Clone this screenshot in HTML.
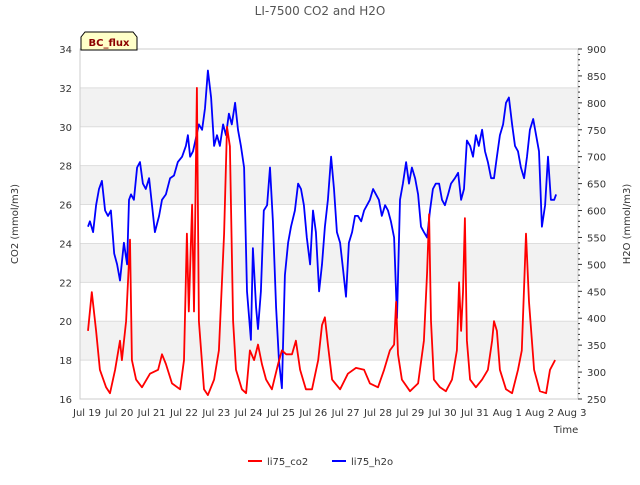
<!DOCTYPE html>
<html><head><meta charset="utf-8"><style>
body{margin:0;background:#fff;}
svg{font-family:"DejaVu Sans","Liberation Sans",sans-serif;}
</style></head><body>
<svg id="chart" width="640" height="480" viewBox="0 0 640 480">
<text x="320" y="15" text-anchor="middle" font-size="12" fill="#555">LI-7500 CO2 and H2O</text>
<g id="bands"></g><g id="grid"></g>
<rect x="80" y="49" width="498" height="350" fill="none" stroke="#ccc"/>
<g id="axes"></g><g id="series"></g>
<g>
<path d="M81,50 L81,37 L85,32 L133,32 L137,37 L137,50 Z" fill="#ffffc8" stroke="#000"/>
<text x="109" y="46" text-anchor="middle" font-size="10" font-weight="bold" fill="#8b0000">BC_flux</text></g>
<text transform="translate(18,224) rotate(-90)" text-anchor="middle" font-size="10" fill="#333">CO2 (mmol/m3)</text>
<text transform="translate(630,224) rotate(-90)" text-anchor="middle" font-size="10" fill="#333">H2O (mmol/m3)</text>
<text x="566" y="433" text-anchor="middle" font-size="10" fill="#333">Time</text>
<g><line x1="248" y1="461" x2="262" y2="461" stroke="#f00" stroke-width="2"/><text x="267" y="465" font-size="10" fill="#333">li75_co2</text></g>
<g><line x1="332" y1="461" x2="346" y2="461" stroke="#00f" stroke-width="2"/><text x="351" y="465" font-size="10" fill="#333">li75_h2o</text></g>
</svg>
<script>
const xTickLabels=["Jul 19","Jul 20","Jul 21","Jul 22","Jul 23","Jul 24","Jul 25","Jul 26","Jul 27","Jul 28","Jul 29","Jul 30","Jul 31","Aug 1","Aug 2","Aug 3"];
const leftTicks=[16,18,20,22,24,26,28,30,32,34];
const rightTicks=[250,300,350,400,450,500,550,600,650,700,750,800,850,900];
const co2Days=[0.03,0.15,0.28,0.40,0.59,0.71,0.87,1.02,1.08,1.21,1.33,1.39,1.52,1.70,1.95,2.20,2.32,2.44,2.63,2.88,3.00,3.09,3.15,3.25,3.31,3.40,3.46,3.62,3.74,3.93,4.08,4.24,4.33,4.42,4.52,4.61,4.79,4.92,5.04,5.17,5.29,5.41,5.54,5.72,5.91,6.03,6.16,6.34,6.46,6.59,6.77,6.96,7.15,7.27,7.36,7.45,7.58,7.83,8.07,8.32,8.57,8.75,9.00,9.19,9.37,9.50,9.56,9.62,9.74,9.99,10.24,10.42,10.52,10.58,10.64,10.73,10.92,11.10,11.29,11.44,11.51,11.57,11.63,11.69,11.75,11.85,12.03,12.22,12.40,12.53,12.59,12.68,12.77,12.96,13.15,13.33,13.45,13.58,13.67,13.83,14.01,14.20,14.32,14.48];
const co2Values=[19.5,21.5,19.5,17.5,16.6,16.3,17.5,19,18,20,24.2,18,17,16.6,17.3,17.5,18.3,17.8,16.8,16.5,18,24.5,20.5,26,20.5,32,20,16.5,16.2,17,18.5,24.5,30,29,20,17.5,16.5,16.3,18.5,18,18.8,17.8,17,16.5,17.8,18.5,18.3,18.3,19,17.5,16.5,16.5,18,19.8,20.2,18.8,17,16.5,17.3,17.6,17.5,16.8,16.6,17.5,18.5,18.8,21,18.3,17,16.4,16.8,19,22.5,25.5,20,17,16.6,16.4,17,18.5,22,19.5,21.5,25.3,19,17,16.6,17,17.5,19,20,19.5,17.5,16.5,16.3,17.5,18.5,24.5,21,17.5,16.4,16.3,17.5,18];
const h2oDays=[0.03,0.09,0.19,0.28,0.37,0.46,0.56,0.65,0.74,0.84,0.93,1.02,1.14,1.24,1.30,1.36,1.45,1.55,1.64,1.73,1.82,1.92,2.01,2.10,2.23,2.32,2.44,2.57,2.69,2.81,2.94,3.06,3.12,3.19,3.28,3.37,3.46,3.56,3.65,3.74,3.84,3.93,4.02,4.11,4.21,4.30,4.39,4.48,4.58,4.67,4.76,4.86,4.95,5.07,5.13,5.23,5.29,5.38,5.47,5.57,5.66,5.75,5.85,5.94,6.03,6.12,6.22,6.31,6.43,6.53,6.62,6.71,6.80,6.90,6.99,7.08,7.18,7.27,7.36,7.45,7.55,7.64,7.73,7.83,7.92,8.01,8.10,8.20,8.29,8.38,8.48,8.57,8.66,8.75,8.85,8.94,9.03,9.12,9.22,9.31,9.40,9.50,9.59,9.68,9.77,9.87,9.96,10.05,10.15,10.24,10.33,10.42,10.52,10.61,10.70,10.79,10.89,10.98,11.07,11.17,11.26,11.38,11.48,11.57,11.66,11.75,11.85,11.94,12.03,12.12,12.22,12.31,12.40,12.50,12.59,12.68,12.77,12.87,12.96,13.05,13.15,13.24,13.33,13.42,13.52,13.61,13.70,13.80,13.89,13.98,14.07,14.17,14.26,14.35,14.45,14.51];
const h2oValues=[570,580,560,610,640,655,600,590,600,520,500,470,540,500,620,630,620,680,690,650,640,660,610,560,590,620,630,660,665,690,700,720,740,700,710,735,760,750,790,860,810,720,740,720,760,740,780,760,800,750,720,680,450,360,530,420,380,450,600,610,680,580,420,320,270,480,540,570,600,650,640,610,550,500,600,560,450,500,570,620,700,640,560,540,490,440,540,560,590,590,580,600,610,620,640,630,620,590,610,600,580,550,400,620,650,690,650,680,660,630,570,560,550,600,640,650,650,620,610,630,650,660,670,620,640,730,720,700,740,720,750,710,690,660,660,700,740,760,800,810,760,720,710,680,660,700,750,770,740,710,570,610,700,620,620,630];

const NS="http://www.w3.org/2000/svg";
const X0=80,X1=578,Y0=49,Y1=399;
const xS=d=>87+d*32.33;
const yL=v=>Y1-(v-16)*(Y1-Y0)/18;
const yR=v=>Y1-(v-250)*(Y1-Y0)/650;
function mk(tag,attrs,parent){const e=document.createElementNS(NS,tag);for(const k in attrs)e.setAttribute(k,attrs[k]);parent.appendChild(e);return e;}
const bands=document.getElementById('bands'),grid=document.getElementById('grid'),axes=document.getElementById('axes'),series=document.getElementById('series');
for(let i=0;i<leftTicks.length-1;i++){
  if(i%2===1){const r=mk('rect',{x:X0,y:yL(leftTicks[i+1]),width:X1-X0,height:yL(leftTicks[i])-yL(leftTicks[i+1]),fill:'#f2f2f2'},bands);
  
  }
}
leftTicks.forEach(v=>{
  const l=mk('line',{x1:X0,x2:X1,y1:yL(v),y2:yL(v),stroke:'#ddd'},grid);
  
  
  const t=mk('text',{x:X0-8,y:yL(v)+4,'text-anchor':'end','font-size':10,fill:'#333'},axes);
  t.textContent=v;
  
  
});
rightTicks.forEach((v,i)=>{
  const t=mk('text',{x:X1+9,y:yR(v)+4,'font-size':10,fill:'#333'},axes);
  t.textContent=v;
  
  
  mk('line',{x1:X1,x2:X1+4,y1:yR(v),y2:yR(v),stroke:'#333'},axes);
  if(i<rightTicks.length-1){for(let m=1;m<5;m++){const vv=v+m*(rightTicks[1]-rightTicks[0])/5;
    mk('line',{x1:X1,x2:X1+2,y1:yR(vv),y2:yR(vv),stroke:'#333'},axes);}}
});
xTickLabels.forEach((s,i)=>{
  const t=mk('text',{x:xS(i),y:Y1+17,'text-anchor':'middle','font-size':10,fill:'#333'},axes);
  t.textContent=s;
  
  
});
const pc=co2Days.map((d,i)=>xS(d).toFixed(1)+','+yL(co2Values[i]).toFixed(1)).join(' ');
const ph=h2oDays.map((d,i)=>xS(d).toFixed(1)+','+yR(h2oValues[i]).toFixed(1)).join(' ');
const lh=mk('polyline',{points:ph,fill:'none',stroke:'#00f','stroke-width':1.8,'stroke-linejoin':'round'},series);


const lc=mk('polyline',{points:pc,fill:'none',stroke:'#f00','stroke-width':1.8,'stroke-linejoin':'round'},series);


</script>
</body></html>
